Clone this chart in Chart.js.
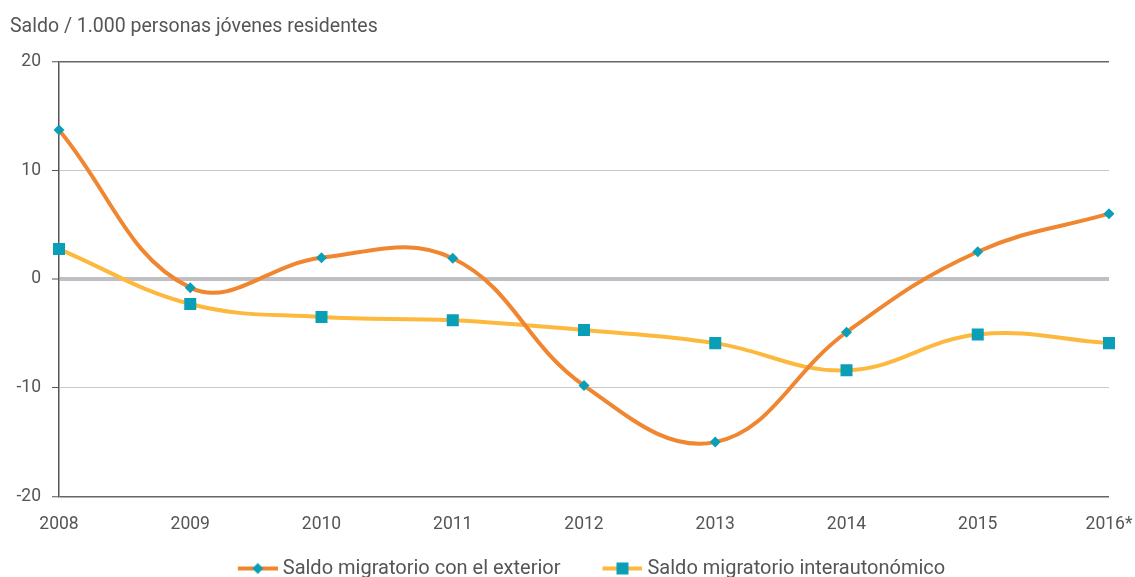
<!DOCTYPE html>
<html>
<head>
<meta charset="utf-8">
<script src="https://cdn.jsdelivr.net/npm/chart.js@4.4.1/dist/chart.umd.min.js"></script>
<style>
  html, body { margin: 0; padding: 0; background: #fff; }
  #wrap { width: 1135px; height: 577px; }
</style>
</head>
<body>
<div id="wrap"><canvas id="migChart"></canvas></div>
<script>
const years = ['2008', '2009', '2010', '2011', '2012', '2013', '2014', '2015', '2016*'];
const exterior = [13.7, -0.8, 1.95, 1.9, -9.8, -15.0, -4.9, 2.5, 6.0];
const interautonomico = [2.75, -2.3, -3.5, -3.8, -4.7, -5.9, -8.4, -5.1, -5.9];
const yTicks = [20, 10, 0, -10, -20];

const orange = '#f0862f';
const yellow = '#fdb93e';
const teal = '#0a9fb7';
const textGrey = '#555555';

const legendBox = 73;   // legend box width, the visible swatch sits at its right end

// legend swatch: line with the marker on it, blank space on the left
function swatch(lineColor, marker) {
    const c = document.createElement('canvas');
    c.width = legendBox + 10;
    c.height = 14;
    const ctx = c.getContext('2d');
    const x0 = c.width - 40;
    const mid = x0 + 20;
    ctx.strokeStyle = lineColor;
    ctx.lineWidth = 4;
    ctx.beginPath();
    ctx.moveTo(x0, 7);
    ctx.lineTo(c.width, 7);
    ctx.stroke();
    ctx.fillStyle = teal;
    if (marker === 'diamond') {
        ctx.beginPath();
        ctx.moveTo(mid, 1.5);
        ctx.lineTo(mid + 5.5, 7);
        ctx.lineTo(mid, 12.5);
        ctx.lineTo(mid - 5.5, 7);
        ctx.closePath();
        ctx.fill();
    } else {
        ctx.fillRect(mid - 6, 1, 12, 12);
    }
    return c;
}

const data = {
    labels: years,
    datasets: [{
        label: 'Saldo migratorio con el exterior',
        data: exterior,
        borderColor: orange,
        backgroundColor: teal,
        borderWidth: 4,
        tension: 0.4,
        pointStyle: 'rectRot',
        pointRadius: 5.5,
        pointBorderWidth: 0,
        pointBackgroundColor: teal,
        legendSwatch: swatch(orange, 'diamond'),
        order: 1,
    }, {
        label: 'Saldo migratorio interautonómico',
        data: interautonomico,
        borderColor: yellow,
        backgroundColor: teal,
        borderWidth: 4,
        tension: 0.4,
        pointStyle: 'rect',
        pointRadius: 8.5,
        pointBorderWidth: 0,
        pointBackgroundColor: teal,
        legendSwatch: swatch(yellow, 'square'),
        order: 2,
    }]
};

const config = {
    type: 'line',
    data: data,
    options: {
        responsive: true,
        maintainAspectRatio: false,
        animation: false,
        layout: {
            padding: { left: 10, right: 0, top: 15, bottom: -11.5 },
        },
        plugins: {
            title: {
                display: true,
                text: 'Saldo / 1.000 personas jóvenes residentes',
                align: 'start',
                color: textGrey,
                font: { family: 'Roboto', size: 19.5, weight: 'normal' },
                padding: { top: 0, bottom: 23 },
            },
            legend: {
                position: 'bottom',
                labels: {
                    usePointStyle: true,
                    pointStyleWidth: legendBox,
                    padding: 4,
                    color: textGrey,
                    font: { family: 'Roboto', size: 20 },
                    generateLabels: (chart) => chart.data.datasets.map((ds, i) => ({
                        text: ds.label,
                        pointStyle: ds.legendSwatch,
                        fontColor: textGrey,
                        lineWidth: 0,
                        strokeStyle: 'transparent',
                        fillStyle: 'transparent',
                        datasetIndex: i,
                        hidden: false,
                    })),
                },
            },
            tooltip: { enabled: false },
        },
        scales: {
            x: {
                grid: { display: false },
                border: { display: false },
                afterFit: (axis) => {
                    axis.height = 58;
                    axis.paddingRight = 26;
                },
                ticks: {
                    color: textGrey,
                    font: { family: 'Roboto', size: 17.5 },
                    padding: 10,
                    maxRotation: 0,
                },
            },
            y: {
                min: -20,
                max: 20,
                afterFit: (axis) => { axis.width = 49; },
                afterBuildTicks: (axis) => {
                    axis.ticks = yTicks.map(v => ({ value: v }));
                },
                border: { display: true, color: '#555555', width: 1.5 },
                grid: {
                    color: (ctx) => {
                        const v = ctx.tick.value;
                        if (v === 0) return '#bfbfc4';
                        if (v === 20 || v === -20) return '#666666';
                        return '#c8c8c8';
                    },
                    lineWidth: (ctx) => {
                        const v = ctx.tick.value;
                        if (v === 0) return 4;
                        if (v === 20 || v === -20) return 1.5;
                        return 1;
                    },
                    tickColor: '#555555',
                    tickWidth: 1,
                    tickLength: 7,
                },
                ticks: {
                    color: textGrey,
                    font: { family: 'Roboto', size: 17.5 },
                    padding: 11,
                },
            },
        },
    }
};

const migChart = new Chart(document.getElementById('migChart'), config);
</script>
</body>
</html>
